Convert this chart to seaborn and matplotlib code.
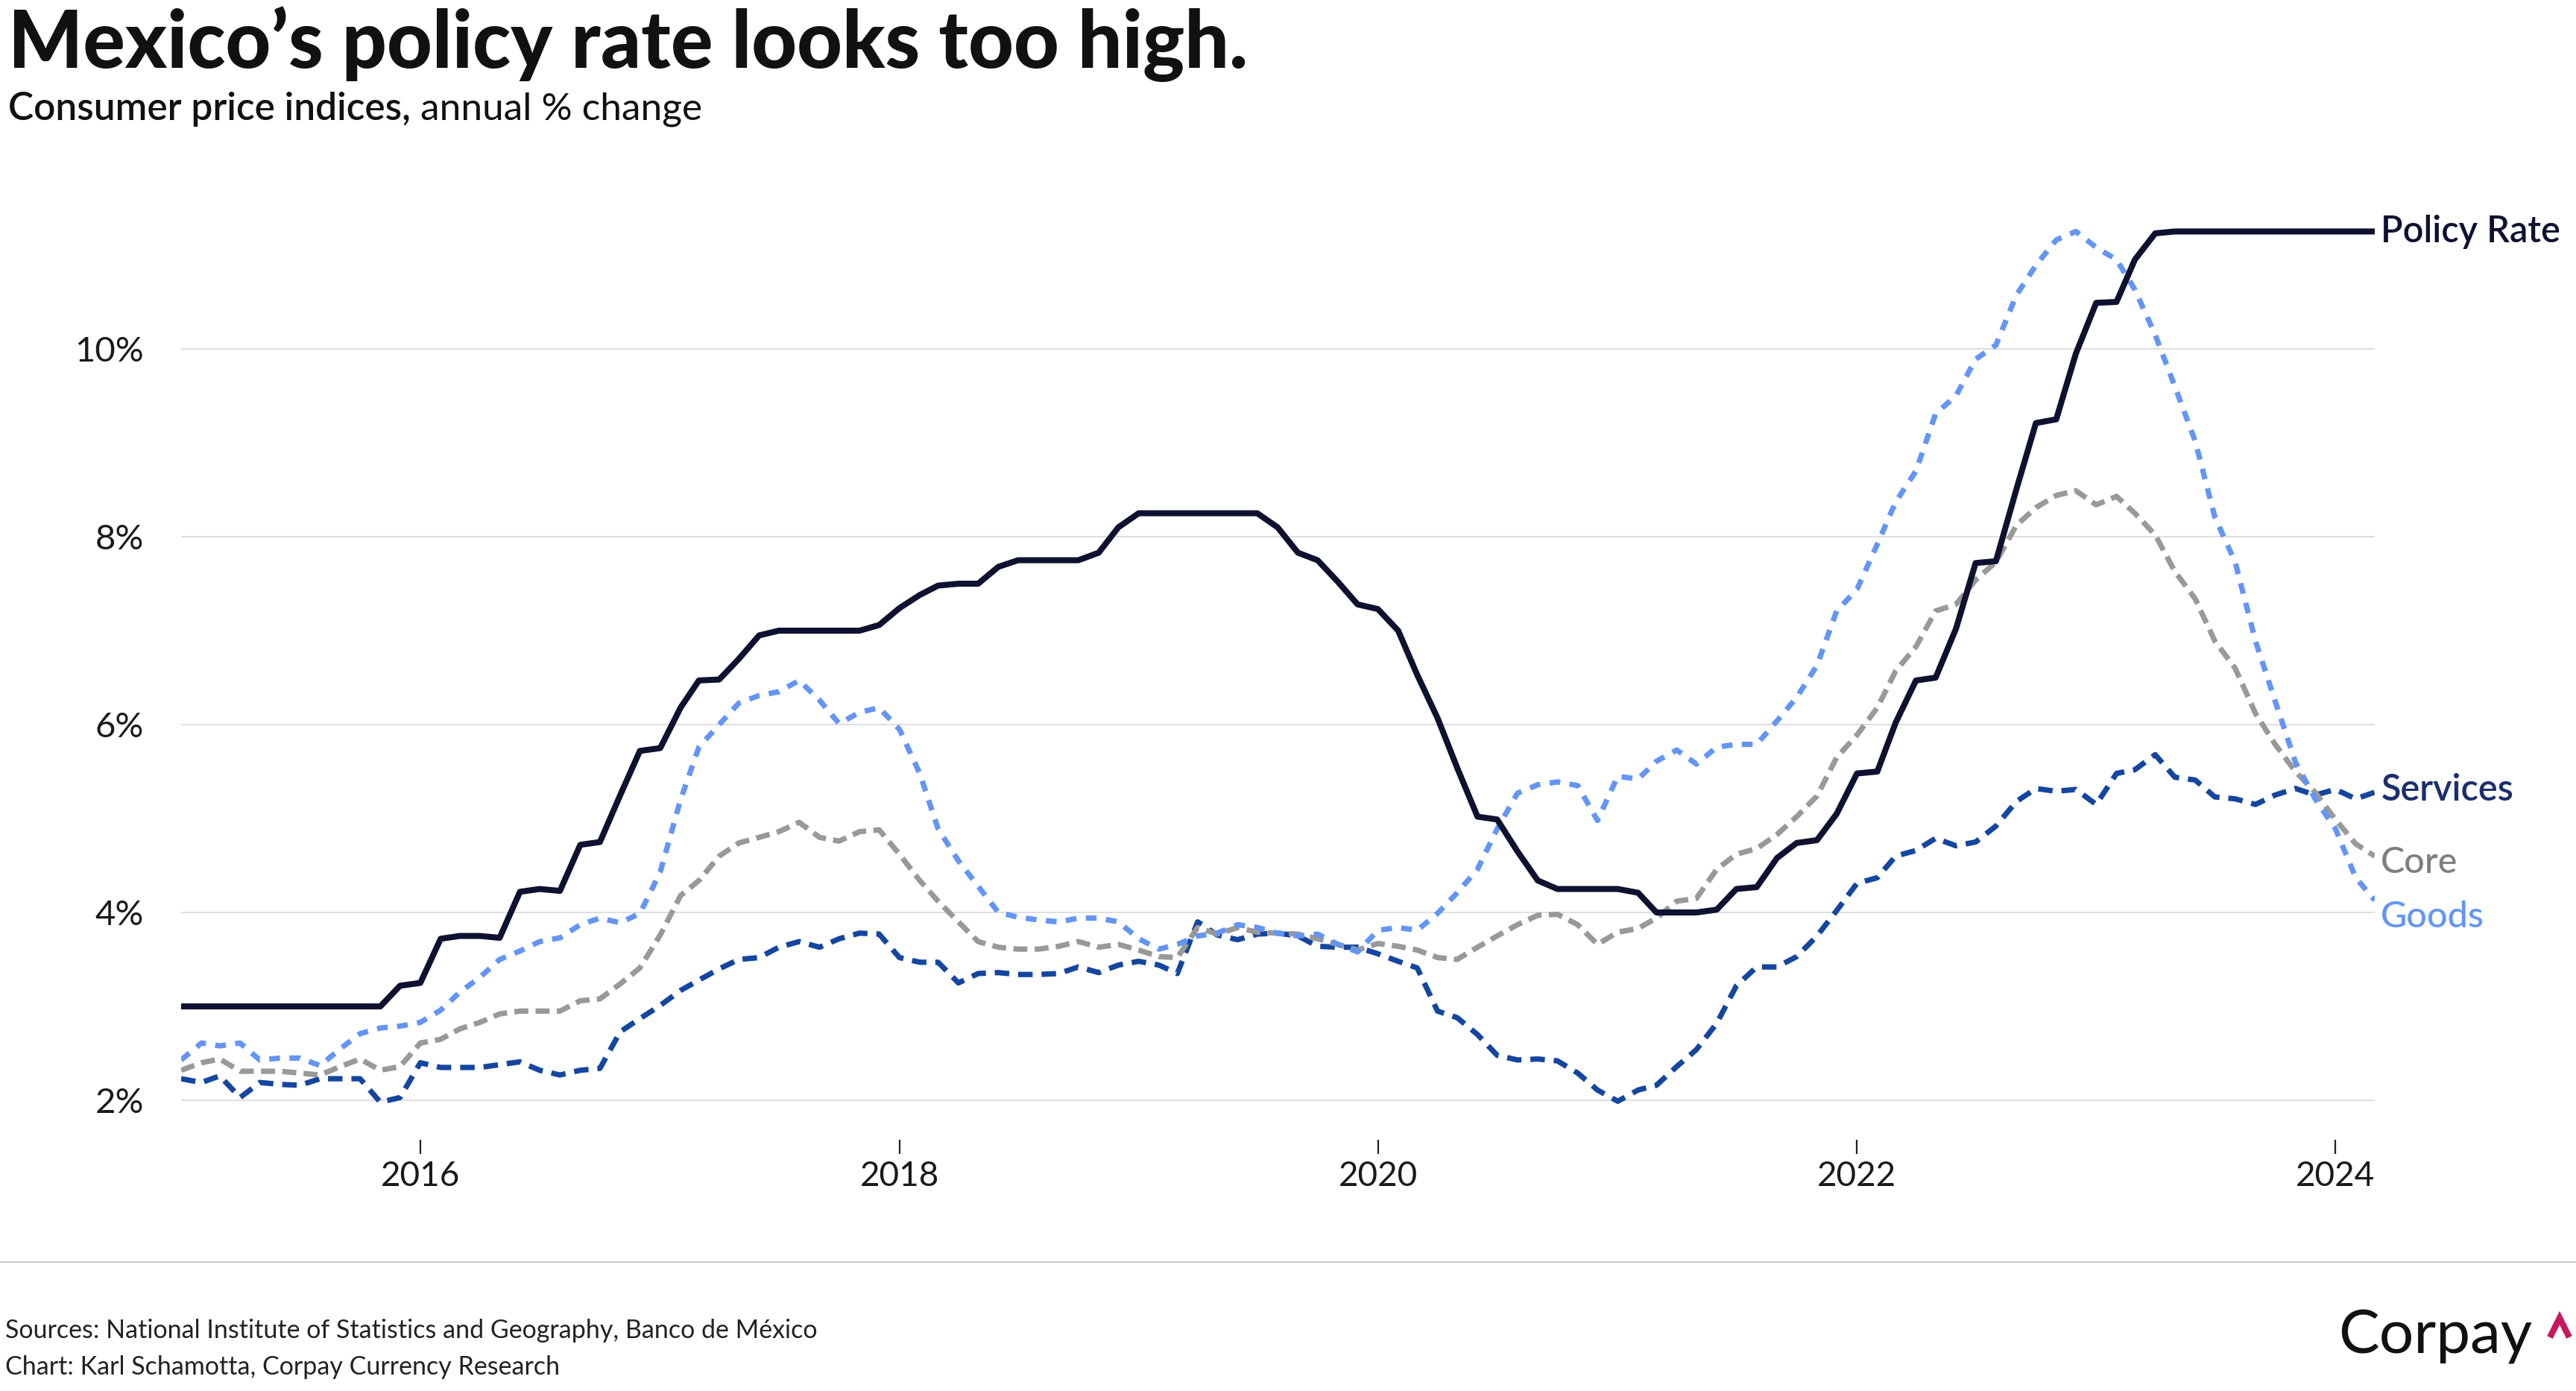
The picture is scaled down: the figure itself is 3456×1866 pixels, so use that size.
import numpy as np
import pandas as pd
import matplotlib
matplotlib.use("Agg")
import matplotlib.pyplot as plt
from matplotlib.lines import Line2D
import seaborn as sns

# ---------------- data (monthly, Jan 2015 - Mar 2024) ----------------
dates = pd.date_range("2015-01-01", "2024-03-01", freq="MS")

policy_rate = [
    3.00, 3.00, 3.00, 3.00, 3.00, 3.00, 3.00, 3.00, 3.00, 3.00, 3.00, 3.22,
    3.25, 3.72, 3.75, 3.75, 3.73, 4.22, 4.25, 4.23, 4.72, 4.75, 5.25, 5.72,
    5.75, 6.18, 6.47, 6.48, 6.70, 6.95, 7.00, 7.00, 7.00, 7.00, 7.00, 7.06,
    7.24, 7.38, 7.48, 7.50, 7.50, 7.68, 7.75, 7.75, 7.75, 7.75, 7.83, 8.10,
    8.25, 8.25, 8.25, 8.25, 8.25, 8.25, 8.25, 8.10, 7.83, 7.75, 7.52, 7.28,
    7.23, 7.00, 6.53, 6.07, 5.54, 5.02, 4.99, 4.65, 4.34, 4.25, 4.25, 4.25,
    4.25, 4.21, 4.00, 4.00, 4.00, 4.03, 4.25, 4.27, 4.58, 4.74, 4.77, 5.05,
    5.48, 5.50, 6.02, 6.47, 6.50, 7.02, 7.72, 7.74, 8.50, 9.21, 9.25, 9.95,
    10.49, 10.50, 10.95, 11.23, 11.25, 11.25, 11.25, 11.25, 11.25, 11.25, 11.25, 11.25,
    11.25, 11.25, 11.25,
]

goods = [
    2.43, 2.61, 2.58, 2.61, 2.43, 2.45, 2.45, 2.37, 2.55, 2.71, 2.77, 2.79,
    2.83, 2.96, 3.15, 3.31, 3.50, 3.59, 3.69, 3.73, 3.87, 3.94, 3.89, 3.99,
    4.43, 5.20, 5.76, 6.00, 6.23, 6.31, 6.35, 6.47, 6.26, 6.01, 6.13, 6.18,
    5.95, 5.48, 4.89, 4.55, 4.28, 4.00, 3.95, 3.92, 3.90, 3.94, 3.94, 3.90,
    3.72, 3.61, 3.66, 3.75, 3.78, 3.87, 3.84, 3.78, 3.75, 3.77, 3.66, 3.58,
    3.81, 3.84, 3.81, 3.99, 4.21, 4.46, 4.89, 5.27, 5.36, 5.39, 5.35, 4.98,
    5.45, 5.42, 5.61, 5.73, 5.58, 5.76, 5.79, 5.79, 6.04, 6.29, 6.63, 7.21,
    7.44, 7.92, 8.37, 8.70, 9.31, 9.50, 9.89, 10.04, 10.57, 10.89, 11.16, 11.25,
    11.08, 10.95, 10.63, 10.15, 9.60, 9.02, 8.21, 7.73, 6.89, 6.25, 5.60, 5.21,
    4.89, 4.37, 4.13,
]

core = [
    2.32, 2.40, 2.44, 2.31, 2.31, 2.31, 2.29, 2.27, 2.36, 2.44, 2.32, 2.36,
    2.61, 2.65, 2.76, 2.83, 2.92, 2.95, 2.95, 2.95, 3.06, 3.08, 3.24, 3.41,
    3.76, 4.18, 4.34, 4.60, 4.74, 4.80, 4.86, 4.96, 4.80, 4.76, 4.86, 4.88,
    4.62, 4.34, 4.12, 3.90, 3.69, 3.63, 3.61, 3.61, 3.64, 3.69, 3.63, 3.66,
    3.60, 3.53, 3.52, 3.84, 3.77, 3.84, 3.79, 3.78, 3.77, 3.72, 3.66, 3.60,
    3.67, 3.64, 3.60, 3.52, 3.50, 3.63, 3.75, 3.87, 3.97, 3.98, 3.87, 3.66,
    3.79, 3.83, 3.94, 4.12, 4.15, 4.46, 4.62, 4.68, 4.83, 5.02, 5.24, 5.65,
    5.89, 6.18, 6.57, 6.83, 7.21, 7.28, 7.54, 7.73, 8.12, 8.31, 8.44, 8.49,
    8.34, 8.43, 8.25, 8.02, 7.63, 7.34, 6.89, 6.60, 6.12, 5.79, 5.50, 5.28,
    4.99, 4.73, 4.60,
]

services = [
    2.23, 2.19, 2.26, 2.03, 2.19, 2.17, 2.16, 2.23, 2.23, 2.23, 1.98, 2.03,
    2.40, 2.35, 2.35, 2.35, 2.38, 2.41, 2.32, 2.27, 2.32, 2.34, 2.73, 2.87,
    3.01, 3.17, 3.28, 3.40, 3.50, 3.52, 3.63, 3.69, 3.63, 3.72, 3.78, 3.77,
    3.52, 3.47, 3.47, 3.25, 3.35, 3.36, 3.34, 3.34, 3.35, 3.42, 3.36, 3.44,
    3.48, 3.44, 3.35, 3.90, 3.76, 3.71, 3.77, 3.78, 3.75, 3.64, 3.63, 3.63,
    3.56, 3.48, 3.41, 2.95, 2.88, 2.70, 2.48, 2.43, 2.44, 2.42, 2.29, 2.11,
    1.99, 2.11, 2.16, 2.36, 2.54, 2.82, 3.22, 3.42, 3.42, 3.53, 3.75, 4.02,
    4.31, 4.37, 4.60, 4.66, 4.79, 4.71, 4.75, 4.92, 5.18, 5.32, 5.29, 5.31,
    5.15, 5.48, 5.52, 5.68, 5.44, 5.41, 5.23, 5.21, 5.15, 5.25, 5.32, 5.25,
    5.31, 5.21, 5.28,
]

y_ticks = [2, 4, 6, 8, 10]
y_tick_labels = ["2%", "4%", "6%", "8%", "10%"]
x_tick_years = [2016, 2018, 2020, 2022, 2024]

title = "Mexico\u2019s policy rate looks too high."
subtitle_bold = "Consumer price indices,"
subtitle_rest = " annual % change"
source_lines = ["Sources: National Institute of Statistics and Geography, Banco de M\u00e9xico",
                "Chart: Karl Schamotta, Corpay Currency Research"]

# ---------------- style ----------------
sns.set_theme(style="white")
plt.rcParams["font.family"] = ["Lato", "DejaVu Sans"]

C_POLICY = "#0e1230"
C_GOODS = "#6495f5"
C_CORE = "#999999"
C_SERV = "#1446a0"

W, H = 3456, 1866
fig = plt.figure(figsize=(W / 100, H / 100), dpi=100)
fig.patch.set_facecolor("white")

ax_left, ax_right = 243, 3186
ax_bottom, ax_top = 1529, 266.4
ax = fig.add_axes([ax_left / W, 1 - ax_bottom / H, (ax_right - ax_left) / W, (ax_bottom - ax_top) / H])

df = pd.DataFrame({"date": dates, "Policy Rate": policy_rate, "Goods": goods,
                   "Core": core, "Services": services})

series_specs = [
    ("Services", C_SERV, 5.2, (0, (2.7, 1.65))),
    ("Core", C_CORE, 5.2, (0, (2.6, 1.35))),
    ("Goods", C_GOODS, 5.2, (0, (2.0, 1.75))),
    ("Policy Rate", C_POLICY, 5.8, "-"),
]
for name, color, lw, ls in series_specs:
    sns.lineplot(data=df, x="date", y=name, ax=ax, color=color, linewidth=lw,
                 linestyle=ls, legend=False)
for ln in ax.lines:
    ln.set_solid_joinstyle("round")
    ln.set_solid_capstyle("butt")

ax.set_xlim(dates[0], dates[-1])
ax.set_ylim(1.58, 11.6)
ax.set_xlabel("")
ax.set_ylabel("")

for s in ax.spines.values():
    s.set_visible(False)

ax.set_yticks(y_ticks)
ax.set_yticklabels(y_tick_labels)
ax.yaxis.grid(True, color="#d4d4d4", linewidth=1.1)
ax.xaxis.grid(False)
ax.set_axisbelow(True)
ax.tick_params(axis="y", length=0, pad=36, labelsize=34, labelcolor="#1a1a1a")

ax.set_xticks([pd.Timestamp(f"{y}-01-01") for y in x_tick_years])
ax.set_xticklabels([str(y) for y in x_tick_years])
ax.tick_params(axis="x", bottom=True, direction="out", length=13.5, width=1.6,
               color="#222222", pad=7, labelsize=33, labelcolor="#1a1a1a")

# end labels
end_labels = [
    ("Policy Rate", policy_rate[-1], C_POLICY, 0, "semibold"),
    ("Services", services[-1], "#1b2e6e", 2, "semibold"),
    ("Core", core[-1], "#7f7f7f", -6.5, "medium"),
    ("Goods", goods[-1], C_GOODS, -16, "medium"),
]
for txt, val, col, dy, wt in end_labels:
    ax.annotate(txt, xy=(dates[-1], val), xytext=(6, dy), textcoords="offset points",
                ha="left", va="center", fontsize=35, color=col, fontweight=wt,
                annotation_clip=False)

# titles
fig.text(11 / W, 1 - 91 / H, title, fontsize=76, fontweight="black",
         color="#111111", ha="left", va="baseline")
t1 = fig.text(11 / W, 1 - 161 / H, subtitle_bold, fontsize=37, fontweight="semibold",
              color="#111111", ha="left", va="baseline")
fig.canvas.draw()
bb = t1.get_window_extent(renderer=fig.canvas.get_renderer())
fig.text(bb.x1 / W, 1 - 161 / H, subtitle_rest, fontsize=37, fontweight="normal",
         color="#111111", ha="left", va="baseline")

# footer
fig.add_artist(Line2D([0, 1], [1 - 1693 / H, 1 - 1693 / H], transform=fig.transFigure,
                      color="#cccccc", linewidth=1.5))
fig.text(7 / W, 1 - 1795 / H, source_lines[0], fontsize=24.5, color="#222222",
         ha="left", va="baseline")
fig.text(7 / W, 1 - 1844 / H, source_lines[1], fontsize=24.5, color="#222222",
         ha="left", va="baseline")

# logo
fig.text(3137 / W, 1 - 1816 / H, "Corpay", fontsize=59, color="#111111",
         ha="left", va="baseline")
caret_x = [3421 / W, 3434 / W, 3447 / W]
caret_y = [1 - 1794 / H, 1 - 1768 / H, 1 - 1794 / H]
fig.add_artist(Line2D(caret_x, caret_y, transform=fig.transFigure, color="#c8175d",
                      linewidth=6, solid_joinstyle="miter", solid_capstyle="butt"))

fig.savefig("out.png", dpi=100, facecolor="white")
